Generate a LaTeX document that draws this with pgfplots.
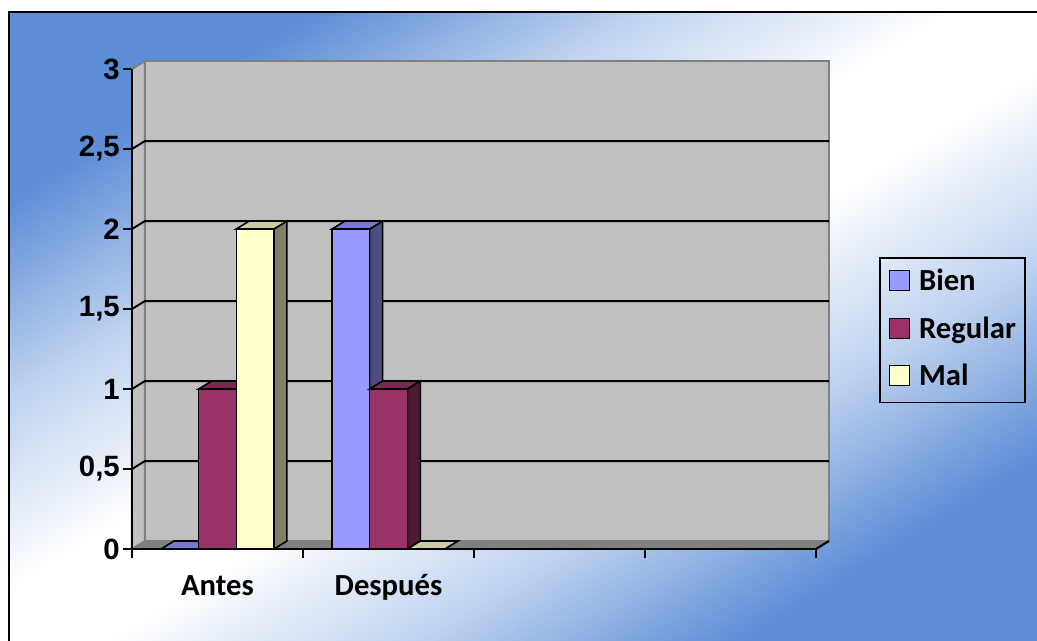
\documentclass[border=0pt]{standalone}
\usepackage{pgfplots}
\pgfplotsset{compat=1.18}
\usepackage{fontspec}
\setmainfont{Carlito}
\newfontfamily\numfont{Liberation Sans}
\definecolor{bgblue}{HTML}{5C8DD6}
\definecolor{bien}{HTML}{9999FF}
\definecolor{bientop}{HTML}{7A7ACC}
\definecolor{bienside}{HTML}{4D4D80}
\definecolor{reg}{HTML}{993366}
\definecolor{regtop}{HTML}{7A2952}
\definecolor{regside}{HTML}{4D1A33}
\definecolor{mal}{HTML}{FFFFCC}
\definecolor{maltop}{HTML}{CCCCA3}
\definecolor{malside}{HTML}{808066}
\definecolor{wall}{HTML}{C0C0C0}
\definecolor{wallline}{HTML}{808080}
\pgfdeclareverticalshading{bgsh}{100bp}{color(0bp)=(bgblue); color(25bp)=(bgblue); color(36bp)=(bgblue!40!white); color(47bp)=(white); color(53bp)=(white); color(64bp)=(bgblue!40!white); color(75bp)=(bgblue); color(100bp)=(bgblue)}
\begin{document}
\begin{tikzpicture}
\useasboundingbox (-99pt,-68.25pt) rectangle (678.75pt,411.75pt);
\clip (-99pt,-68.25pt) rectangle (678.75pt,411.75pt);
\fill[white] (-99pt,-68.25pt) rectangle (678.75pt,411.75pt);
\begin{scope}[transform canvas={xscale=1.6328}]
\shade[shading=bgsh, shading angle=45] (-56.71pt,-72pt) rectangle (417.69pt,402.4pt);
\end{scope}
\draw[black, line width=1.5pt] (-92.6pt,-90pt) rectangle (700pt,402.4pt);
\begin{axis}[
  at={(0pt,0pt)}, anchor=south west,
  scale only axis, width=513pt, height=360pt,
  xmin=0, xmax=4, ymin=0, ymax=3,
  clip=false,
  axis lines=left,
  axis line style={draw=none},
  tick align=outside,
  major tick length=7pt,
  tick style={black, line width=1.4pt},
  xtick={0,1,2,3,4}, xticklabels={},
  extra x ticks={0.5,1.5},
  extra x tick labels={Antes,Después},
  extra x tick style={major tick length=0pt,
    xticklabel style={anchor=base, yshift=-34.5pt, font=\bfseries\fontsize{23}{27}\selectfont}},
  ytick={0,0.5,1,1.5,2,2.5,3},
  yticklabels={0,{0,5},1,{1,5},2,{2,5},3},
  yticklabel style={font=\numfont\bfseries\fontsize{22}{26}\selectfont, inner sep=2pt},
  legend image code/.code={\draw[#1,draw=black,line width=1pt] (0pt,-6pt) rectangle (15pt,9pt);},
  legend cell align=left,
  legend style={at={(1.092,0.608)}, anchor=north west, draw=black, line width=1.2pt,
    fill=none, font=\bfseries\fontsize{23}{27}\selectfont,
    nodes={inner sep=0pt, text height=16pt, text depth=4pt},
    row sep=15.7pt, column sep=6.5pt, inner xsep=7pt, inner ysep=8.5pt},
]
% walls and floor
\addplot[forget plot, fill=wall, draw=wallline, line width=1.5pt] coordinates {(0.076,0.05) (4.076,0.05) (4.076,3.05) (0.076,3.05)} -- cycle;
\addplot[forget plot, fill=wall, draw=wallline, line width=1.5pt] coordinates {(0,0) (0.076,0.05) (0.076,3.05) (0,3)} -- cycle;
\addplot[forget plot, fill=wallline, draw=wallline, line width=1pt] coordinates {(0,0) (4,0) (4.076,0.05) (0.076,0.05)} -- cycle;
% gridlines
\addplot[forget plot, black, line width=1.5pt] coordinates {(0,0.5) (0.076,0.55) (4.076,0.55)};
\addplot[forget plot, black, line width=1.5pt] coordinates {(0,1) (0.076,1.05) (4.076,1.05)};
\addplot[forget plot, black, line width=1.5pt] coordinates {(0,1.5) (0.076,1.55) (4.076,1.55)};
\addplot[forget plot, black, line width=1.5pt] coordinates {(0,2) (0.076,2.05) (4.076,2.05)};
\addplot[forget plot, black, line width=1.5pt] coordinates {(0,2.5) (0.076,2.55) (4.076,2.55)};
% Bien
\addplot[forget plot, fill=bientop, draw=black, line width=1.2pt] coordinates {(0.17,0) (0.39,0) (0.466,0.05) (0.246,0.05)} -- cycle;
\addplot[forget plot, fill=bienside, draw=black, line width=1.2pt] coordinates {(1.39,0) (1.466,0.05) (1.466,2.05) (1.39,2)} -- cycle;
\addplot[forget plot, fill=bientop, draw=black, line width=1.2pt] coordinates {(1.17,2) (1.39,2) (1.466,2.05) (1.246,2.05)} -- cycle;
\addplot[ybar, bar width=0.22, bar shift=0pt, fill=bien, draw=black, line width=1.2pt] coordinates {(0.28,0) (1.28,2)};
\addlegendentry{Bien}
% Regular
\addplot[forget plot, fill=regside, draw=black, line width=1.2pt] coordinates {(0.61,0) (0.686,0.05) (0.686,1.05) (0.61,1)} -- cycle;
\addplot[forget plot, fill=regtop, draw=black, line width=1.2pt] coordinates {(0.39,1) (0.61,1) (0.686,1.05) (0.466,1.05)} -- cycle;
\addplot[forget plot, fill=regside, draw=black, line width=1.2pt] coordinates {(1.61,0) (1.686,0.05) (1.686,1.05) (1.61,1)} -- cycle;
\addplot[forget plot, fill=regtop, draw=black, line width=1.2pt] coordinates {(1.39,1) (1.61,1) (1.686,1.05) (1.466,1.05)} -- cycle;
\addplot[ybar, bar width=0.22, bar shift=0pt, fill=reg, draw=black, line width=1.2pt] coordinates {(0.5,1) (1.5,1)};
\addlegendentry{Regular}
% Mal
\addplot[forget plot, fill=malside, draw=black, line width=1.2pt] coordinates {(0.83,0) (0.906,0.05) (0.906,2.05) (0.83,2)} -- cycle;
\addplot[forget plot, fill=maltop, draw=black, line width=1.2pt] coordinates {(0.61,2) (0.83,2) (0.906,2.05) (0.686,2.05)} -- cycle;
\addplot[forget plot, fill=maltop, draw=black, line width=1.2pt] coordinates {(1.61,0) (1.83,0) (1.906,0.05) (1.686,0.05)} -- cycle;
\addplot[ybar, bar width=0.22, bar shift=0pt, fill=mal, draw=black, line width=1.2pt] coordinates {(0.72,2) (1.72,0)};
\addlegendentry{Mal}
% front axis lines
\addplot[forget plot, black, line width=1.5pt] coordinates {(0,3) (0,0) (4,0)};
\addplot[forget plot, black, line width=1.5pt] coordinates {(4,0) (4.076,0.05)};
\end{axis}
\end{tikzpicture}
\end{document}
